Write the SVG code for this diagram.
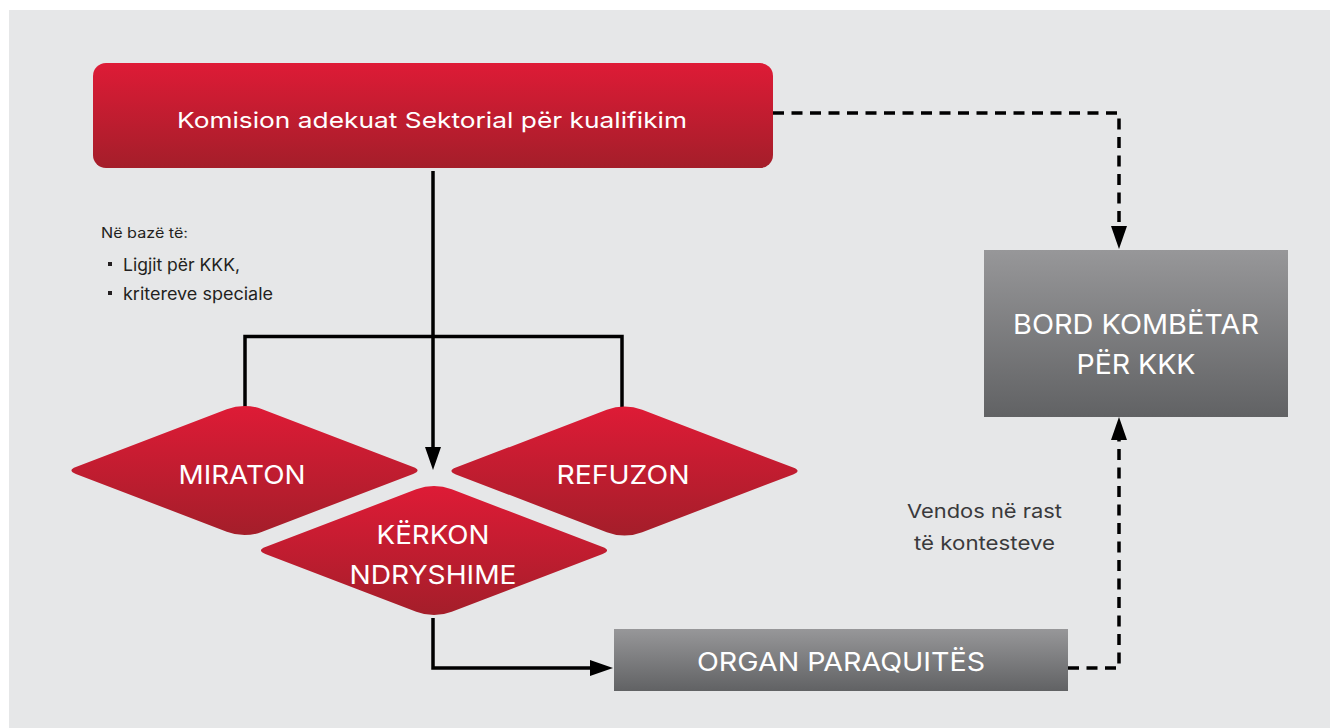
<svg xmlns="http://www.w3.org/2000/svg" width="1330" height="728" viewBox="0 0 1330 728">
  <defs>
    <linearGradient id="gRed" x1="0" y1="0" x2="0" y2="1">
      <stop offset="0" stop-color="#de1b36"/>
      <stop offset="1" stop-color="#a41e2a"/>
    </linearGradient>
    <linearGradient id="gGrey" x1="0" y1="0" x2="0" y2="1">
      <stop offset="0" stop-color="#979799"/>
      <stop offset="1" stop-color="#616264"/>
    </linearGradient>
    <!-- rounded decision diamond, centred on the origin -->
    <path id="diamond" d="M -168.625,-3.4 L -17.75,-61.2 Q 0,-68 17.75,-61.2 L 168.625,-3.4 Q 177.5,0 168.625,3.4 L 17.75,61.2 Q 0,68 -17.75,61.2 L -168.625,3.4 Q -177.5,0 -168.625,-3.4 Z"/>
    <marker id="arrow" markerUnits="userSpaceOnUse" markerWidth="24" markerHeight="16" refX="1" refY="8" orient="auto">
      <path d="M0,0 L23,8 L0,16 Z" fill="#000"/>
    </marker>
    <style>
      .lbl { font-family: Inter, "Liberation Sans", sans-serif; fill: #fff; text-anchor: middle; }
      .note { font-family: Inter, "Liberation Sans", sans-serif; fill: #231f20; }
      .soft { font-family: Inter, "Liberation Sans", sans-serif; fill: #3a3a3c; text-anchor: middle; font-size: 19px; }
      .line { fill: none; stroke: #000; stroke-width: 3.5; }
      .dash { fill: none; stroke: #000; stroke-width: 3.5; stroke-dasharray: 11 7.5; }
    </style>
  </defs>

  <!-- page and panel background -->
  <rect x="0" y="0" width="1330" height="728" fill="#ffffff"/>
  <rect x="9" y="10" width="1321" height="718" fill="#e6e7e8"/>

  <!-- connectors -->
  <g id="connectors">
    <path class="line" d="M433,171 V448" marker-end="url(#arrow)"/>
    <path class="line" d="M245,407 V336.5 H622 V407"/>
    <path class="line" d="M433,618 V668 H591" marker-end="url(#arrow)"/>
    <path class="dash" d="M773,113 H1119 V227" marker-end="url(#arrow)"/>
    <path class="dash" d="M1068,668 H1119 V439" marker-end="url(#arrow)"/>
  </g>

  <!-- sector commission -->
  <g id="komisioni">
    <rect x="93" y="63" width="680" height="105" rx="13" fill="url(#gRed)"/>
    <text class="lbl" x="432" y="128" font-size="22" textLength="510" lengthAdjust="spacingAndGlyphs">Komision adekuat Sektorial për kualifikim</text>
  </g>

  <!-- basis note -->
  <g id="baza">
    <text class="note" x="101" y="238" font-size="14" textLength="87" lengthAdjust="spacingAndGlyphs">Në bazë të:</text>
    <rect x="108" y="262" width="4" height="4" fill="#231f20"/>
    <text class="note" x="123" y="271" font-size="17" textLength="117" lengthAdjust="spacingAndGlyphs">Ligjit për KKK,</text>
    <rect x="108" y="291" width="4" height="4" fill="#231f20"/>
    <text class="note" x="123" y="300" font-size="17" textLength="150" lengthAdjust="spacingAndGlyphs">kritereve speciale</text>
  </g>

  <!-- decisions -->
  <g id="miraton">
    <use href="#diamond" transform="translate(244.5,470.5)" fill="url(#gRed)"/>
    <text class="lbl" x="242" y="484" font-size="26" textLength="127" lengthAdjust="spacingAndGlyphs">MIRATON</text>
  </g>
  <g id="refuzon">
    <use href="#diamond" transform="translate(624.5,471)" fill="url(#gRed)"/>
    <text class="lbl" x="623" y="484" font-size="26" textLength="133" lengthAdjust="spacingAndGlyphs">REFUZON</text>
  </g>
  <g id="kerkon">
    <use href="#diamond" transform="translate(434,550.5)" fill="url(#gRed)"/>
    <text class="lbl" x="433" y="543.5" font-size="26" textLength="113" lengthAdjust="spacingAndGlyphs">KËRKON</text>
    <text class="lbl" x="433" y="583.5" font-size="26" textLength="167" lengthAdjust="spacingAndGlyphs">NDRYSHIME</text>
  </g>

  <!-- national board -->
  <g id="bordi">
    <rect x="984" y="250" width="304" height="167" fill="url(#gGrey)"/>
    <text class="lbl" x="1136" y="334" font-size="27" textLength="246" lengthAdjust="spacingAndGlyphs">BORD KOMBËTAR</text>
    <text class="lbl" x="1136" y="373.5" font-size="27" textLength="119" lengthAdjust="spacingAndGlyphs">PËR KKK</text>
  </g>

  <!-- submitting body -->
  <g id="organi">
    <rect x="614" y="629" width="454" height="62" fill="url(#gGrey)"/>
    <text class="lbl" x="841" y="671" font-size="26" textLength="288" lengthAdjust="spacingAndGlyphs">ORGAN PARAQUITËS</text>
  </g>

  <!-- dispute note -->
  <g id="kontestet">
    <text class="soft" x="984.5" y="518" textLength="155" lengthAdjust="spacingAndGlyphs">Vendos në rast</text>
    <text class="soft" x="984.5" y="550" textLength="141" lengthAdjust="spacingAndGlyphs">të kontesteve</text>
  </g>
</svg>
